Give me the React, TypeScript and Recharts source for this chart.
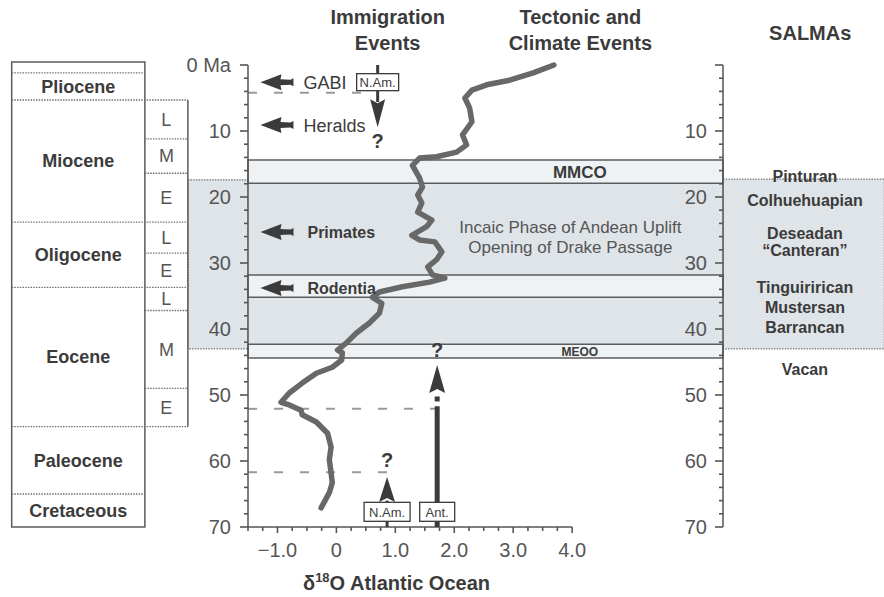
import { ComposedChart, XAxis, YAxis, Scatter, ReferenceArea, ReferenceLine, ReferenceDot } from 'recharts';

const FONT = '"Liberation Sans", Arial, Helvetica, sans-serif';
const INK = '#3b3b3b';
const TICK = '#555555';
const STIPPLE = '#dfe4e8';
const PALE = '#eef2f5';

// δ18O record: age (Ma) and value (‰)
const o18Ages = [
  0, 1.2, 2.3, 3.0, 3.8, 5.0, 6.5, 8.6, 10.6, 12.1, 13.2, 13.9, 14.1, 15.2, 17.1,
  18.5, 19.7, 20.9, 22.3, 23.5, 24.5, 25.8, 26.5, 26.8, 28.3, 29.5, 30.6, 31.8, 32.3,
  32.9, 33.6, 34.4, 35.2, 36.1, 37.6, 39.1, 40.6, 42.1, 43.2, 43.6, 44.7, 45.8, 46.7,
  48.2, 49.7, 51.1, 51.5, 52.3, 53.0, 54.1, 55.8, 57.9, 59.8, 61.8, 63.3, 64.8, 67.1,
];
const o18Values = [
  3.69, 3.34, 2.94, 2.55, 2.30, 2.18, 2.26, 2.30, 2.14, 2.21, 2.04, 1.70, 1.41, 1.29, 1.41,
  1.46, 1.38, 1.45, 1.38, 1.62, 1.53, 1.28, 1.41, 1.67, 1.79, 1.70, 1.55, 1.63, 1.84,
  1.58, 1.12, 0.73, 0.61, 0.77, 0.73, 0.56, 0.34, 0.17, 0.02, 0.10, 0.09, -0.07, -0.34,
  -0.58, -0.80, -0.94, -0.80, -0.60, -0.58, -0.34, -0.15, -0.09, -0.12, -0.09, -0.07, -0.12, -0.26,
];

const xTicks = [-1.5, -1.25, -1, -0.75, -0.5, -0.25, 0, 0.25, 0.5, 0.75, 1, 1.25, 1.5, 1.75, 2, 2.25, 2.5, 2.75, 3, 3.25, 3.5, 3.75, 4];
const ageTicks = [0, 2, 4, 6, 8, 10, 12, 14, 16, 18, 20, 22, 24, 26, 28, 30, 32, 34, 36, 38, 40, 42, 44, 46, 48, 50, 52, 54, 56, 58, 60, 62, 64, 66, 68, 70];

// time scale
const epochNames = ['Pliocene', 'Miocene', 'Oligocene', 'Eocene', 'Paleocene', 'Cretaceous'];
const epochTops = [1.2, 5.3, 23.8, 33.7, 54.8, 65.0];
const epochBases = [5.3, 23.8, 33.7, 54.8, 65.0, 70];
const subLabels = ['L', 'M', 'E', 'L', 'E', 'L', 'M', 'E'];
const subTops = [5.3, 11.2, 16.4, 23.8, 28.5, 33.7, 37.2, 49.0];
const subBases = [11.2, 16.4, 23.8, 28.5, 33.7, 37.2, 49.0, 54.8];

// South American Land Mammal Ages
const salmaNames = ['Pinturan', 'Colhuehuapian', 'Deseadan', '“Canteran”', 'Tinguirirican', 'Mustersan', 'Barrancan', 'Vacan'];
const salmaAges = [16.8, 20.5, 25.5, 28.0, 33.6, 36.7, 39.8, 46.1];

// immigration events
const immigrationNames = ['GABI', 'Heralds', 'Primates', 'Rodentia'];
const immigrationAges = [2.6, 9.1, 25.3, 33.8];
const immigrationBold = [false, false, true, true];

// climate event bands
const bandNames = ['MMCO', '', 'MEOO'];
const bandTops = [14.4, 31.8, 42.3];
const bandBases = [17.9, 35.2, 44.4];
const stippleTops = [17.9, 35.2];
const stippleBases = [31.8, 42.3];

const dottedAges = [4.2, 52.1, 61.7];
const dottedEnds = [0.62, 1.87, 0.94];

// column edges, in the δ18O units of the shared x scale
const EPOCH_L = -5.51;
const EPOCH_R = -3.25;
const STAGE_R = -2.52;
const X_MIN = -1.5;
const X_MAX = 6.56;
const PAGE_R = 9.3;

const curve = o18Ages.map((age, i) => ({ d: o18Values[i], age }));
const immigration = immigrationNames.map((name, i) => ({ d: -1.0, age: immigrationAges[i], name, bold: immigrationBold[i] }));

const LeftTick = (p: any) => {
  const { x, y, payload } = p;
  const v = payload.value;
  const major = v % 10 === 0;
  return (
    <g>
      <line x1={x} x2={x - (major ? 8 : 4)} y1={y} y2={y} stroke={TICK} strokeWidth={1.6} />
      {major && (
        <text x={x - 17} y={y} dy="0.36em" textAnchor="end" fontFamily={FONT} fontSize={20} fill={TICK}>
          {v === 0 ? '0 Ma' : v}
        </text>
      )}
    </g>
  );
};

const RightTick = (p: any) => {
  const { x, y, payload } = p;
  const v = payload.value;
  const major = v % 10 === 0;
  return (
    <g>
      <line x1={x} x2={x - (major ? 8 : 4)} y1={y} y2={y} stroke={TICK} strokeWidth={1.6} />
      {major && v > 0 && (
        <text x={x - 16} y={y} dy="0.36em" textAnchor="end" fontFamily={FONT} fontSize={20} fill={TICK}>
          {v}
        </text>
      )}
    </g>
  );
};

const BottomTick = (p: any) => {
  const { x, y, payload } = p;
  const v = payload.value;
  const major = Number.isInteger(v);
  const label = v === 0 ? '0' : (v < 0 ? '−' : '') + Math.abs(v).toFixed(1);
  return (
    <g>
      <line x1={x} x2={x} y1={y} y2={y + (major ? 6 : 4)} stroke={TICK} strokeWidth={1.6} />
      {major && (
        <text x={x} y={y + 30} textAnchor="middle" fontFamily={FONT} fontSize={20} fill={TICK}>
          {label}
        </text>
      )}
    </g>
  );
};

const note = (lines: string[], size: number, weight = 700, color = INK, gap = 26) => (p: any) => {
  const top = p.cy - ((lines.length - 1) * gap) / 2;
  return (
    <g>
      {lines.map((l, i) => (
        <text key={i} x={p.cx} y={top + i * gap} dy="0.36em" textAnchor="middle" fontFamily={FONT} fontSize={size} fontWeight={weight} fill={color}>
          {l}
        </text>
      ))}
    </g>
  );
};

const tagBox = (label: string, w: number, h: number) => (p: any) => (
  <g>
    <rect x={p.cx - w / 2} y={p.cy - h / 2} width={w} height={h} fill="#fff" stroke={INK} strokeWidth={1.3} />
    <text x={p.cx} y={p.cy} dy="0.36em" textAnchor="middle" fontFamily={FONT} fontSize={13} fill={INK}>{label}</text>
  </g>
);

const dart = (dir: number, len: number, half: number) => (p: any) => {
  const { cx, cy } = p;
  return <polygon points={`${cx - half},${cy} ${cx},${cy + dir * 4} ${cx + half},${cy} ${cx},${cy + dir * len}`} fill={INK} />;
};

const LeftArrow = (p: any) => {
  const { cx, cy, payload } = p;
  const pts = [
    [-17, 0], [4, -8], [3, -3], [13, -2.5], [16, -4], [16, 4], [13, 2.5], [3, 3], [4, 8],
  ].map(([dx, dy]) => `${cx + dx},${cy + dy}`).join(' ');
  return (
    <g>
      <polygon points={pts} fill={INK} />
      <text x={cx + (payload.bold ? 30 : 26)} y={cy} dy="0.36em" fontFamily={FONT} fontSize={payload.bold ? 16 : 18} fontWeight={payload.bold ? 700 : 400} fill={INK}>
        {payload.name}
      </text>
    </g>
  );
};

const XTitle = (p: any) => (
  <text x={p.cx} y={p.cy} dy="0.36em" textAnchor="middle" fontFamily={FONT} fontSize={20} fontWeight={700} fill={INK}>
    <tspan>δ</tspan>
    <tspan dy={-8} fontSize={13}>18</tspan>
    <tspan dy={8}>O Atlantic Ocean</tspan>
  </text>
);

const lineStyle = { stroke: '#5c5c5c', strokeWidth: 1.5 };
const dotStyle = { stroke: '#707070', strokeWidth: 1.3, strokeDasharray: '1.5 1.2' };

export default function App() {
  return (
    <div style={{ position: 'absolute', left: 0, top: 0, background: '#fff' }}>
      <ComposedChart width={884} height={597} margin={{ top: 65, right: 160, bottom: 30, left: 188 }}>
        <XAxis type="number" dataKey="d" domain={[X_MIN, X_MAX]} ticks={xTicks} interval={0} height={40}
          tickSize={0} tickMargin={0} axisLine={false} tickLine={false} tick={<BottomTick />} />
        <YAxis yAxisId="left" type="number" dataKey="age" domain={[0, 70]} reversed ticks={ageTicks} interval={0}
          width={60} tickSize={0} tickMargin={0} tickLine={false} axisLine={{ stroke: TICK, strokeWidth: 1.5 }} tick={<LeftTick />} />
        <YAxis yAxisId="right" orientation="right" type="number" dataKey="age" domain={[0, 70]} reversed ticks={ageTicks} interval={0}
          width={1} tickSize={0} tickMargin={0} tickLine={false} axisLine={{ stroke: TICK, strokeWidth: 1.5 }} tick={<RightTick />} />

        {/* grey stippled interval outside and inside the plot */}
        <ReferenceArea yAxisId="left" x1={STAGE_R} x2={X_MIN} y1={17.4} y2={43.0} ifOverflow="visible" fill={STIPPLE} fillOpacity={1} {...dotStyle} />
        <ReferenceArea yAxisId="left" x1={X_MAX} x2={PAGE_R} y1={17.3} y2={43.0} ifOverflow="visible" fill={STIPPLE} fillOpacity={1} {...dotStyle} />
        {stippleTops.map((t, i) => (
          <ReferenceArea key={`st${i}`} yAxisId="left" x1={X_MIN} x2={X_MAX} y1={t} y2={stippleBases[i]} ifOverflow="visible" fill={STIPPLE} fillOpacity={1} stroke="none" />
        ))}
        {bandTops.map((t, i) => (
          <ReferenceArea key={`b${i}`} yAxisId="left" x1={X_MIN} x2={X_MAX} y1={t} y2={bandBases[i]} ifOverflow="visible" fill={PALE} fillOpacity={1} {...lineStyle} />
        ))}

        {/* epoch column */}
        <ReferenceArea yAxisId="left" x1={EPOCH_L} x2={EPOCH_R} y1={-0.45} y2={70} ifOverflow="visible" fill="#fff" fillOpacity={1} {...lineStyle} />
        {epochNames.map((n, i) => (
          <ReferenceArea key={`e${i}`} yAxisId="left" x1={EPOCH_L} x2={EPOCH_R} y1={epochTops[i]} y2={epochBases[i]} ifOverflow="visible"
            fill="none" stroke="none"
            label={{ value: n, position: 'center', fill: INK, fontSize: 18, fontWeight: 700, fontFamily: FONT }} />
        ))}
        {subLabels.map((n, i) => (
          <ReferenceArea key={`s${i}`} yAxisId="left" x1={EPOCH_R} x2={STAGE_R} y1={subTops[i]} y2={subBases[i]} ifOverflow="visible"
            fill="none" stroke="none"
            label={{ value: n, position: 'center', fill: TICK, fontSize: 18, fontFamily: FONT }} />
        ))}
        <ReferenceLine yAxisId="left" segment={[{ x: STAGE_R, y: 5.3 }, { x: STAGE_R, y: 54.8 }]} ifOverflow="visible" {...lineStyle} />
        {[1.2, 65.0].map((a) => (
          <ReferenceLine key={`ed${a}`} yAxisId="left" segment={[{ x: EPOCH_L, y: a }, { x: EPOCH_R, y: a }]} ifOverflow="visible" {...dotStyle} />
        ))}
        {[5.3, 23.8, 33.7, 54.8].map((a) => (
          <ReferenceLine key={`eb${a}`} yAxisId="left" segment={[{ x: EPOCH_L, y: a }, { x: STAGE_R, y: a }]} ifOverflow="visible" {...dotStyle} />
        ))}
        {[11.2, 16.4, 28.5, 37.2, 49.0].map((a) => (
          <ReferenceLine key={`sb${a}`} yAxisId="left" segment={[{ x: EPOCH_R, y: a }, { x: STAGE_R, y: a }]} ifOverflow="visible" {...dotStyle} />
        ))}

        {/* dotted guide lines */}
        {dottedAges.map((a, i) => (
          <ReferenceLine key={`g${i}`} yAxisId="left" segment={[{ x: X_MIN, y: a }, { x: dottedEnds[i], y: a }]}
            stroke="#9a9a9a" strokeWidth={2} strokeDasharray="9 17" />
        ))}

        {/* bottom axis line */}
        <ReferenceLine yAxisId="left" segment={[{ x: X_MIN, y: 70 }, { x: 4, y: 70 }]} ifOverflow="visible" stroke={TICK} strokeWidth={1.5} />

        {/* dispersal arrows */}
        <ReferenceLine yAxisId="left" segment={[{ x: 0.7, y: 0 }, { x: 0.7, y: 5.6 }]} stroke={INK} strokeWidth={3} />
        <ReferenceLine yAxisId="left" segment={[{ x: 0.86, y: 66 }, { x: 0.86, y: 70 }]} stroke={INK} strokeWidth={3} />
        <ReferenceLine yAxisId="left" segment={[{ x: 1.71, y: 51.7 }, { x: 1.71, y: 70 }]} stroke={INK} strokeWidth={5} />

        <Scatter yAxisId="left" data={curve} isAnimationActive={false} shape={() => <g />}
          line={{ stroke: '#686868', strokeWidth: 5.5, strokeLinejoin: 'round', strokeLinecap: 'round' }} lineType="joint" />
        {/* same record bound to the right-hand age axis so it gets its scale */}
        <Scatter yAxisId="right" data={curve} isAnimationActive={false} shape={() => <g />} />
        <Scatter yAxisId="left" data={immigration} isAnimationActive={false} shape={(p: any) => <LeftArrow {...p} />} />

        <ReferenceDot yAxisId="left" x={0.7} y={5.2} ifOverflow="visible" shape={dart(1, 28, 7.5)} />
        <ReferenceDot yAxisId="left" x={0.7} y={2.6} ifOverflow="visible" shape={tagBox('N.Am.', 42, 17)} />
        <ReferenceDot yAxisId="left" x={0.7} y={11.5} ifOverflow="visible" shape={note(['?'], 20)} />
        <ReferenceDot yAxisId="left" x={0.86} y={66.2} ifOverflow="visible" shape={dart(-1, 25, 8)} />
        <ReferenceDot yAxisId="left" x={0.86} y={67.7} ifOverflow="visible" shape={tagBox('N.Am.', 46, 19)} />
        <ReferenceDot yAxisId="left" x={0.86} y={59.8} ifOverflow="visible" shape={note(['?'], 20)} />
        <ReferenceDot yAxisId="left" x={1.71} y={50.6} ifOverflow="visible" shape={(p: any) => <rect x={p.cx - 2.5} y={p.cy - 2.5} width={5} height={5} fill={INK} />} />
        <ReferenceDot yAxisId="left" x={1.71} y={49.7} ifOverflow="visible" shape={dart(-1, 28, 8)} />
        <ReferenceDot yAxisId="left" x={1.71} y={67.7} ifOverflow="visible" shape={tagBox('Ant.', 35, 19)} />
        <ReferenceDot yAxisId="left" x={1.71} y={43.2} ifOverflow="visible" shape={note(['?'], 20)} />

        {/* event labels */}
        <ReferenceDot yAxisId="left" x={4.13} y={16.15} ifOverflow="visible" shape={note([bandNames[0]], 17)} />
        <ReferenceDot yAxisId="left" x={4.13} y={43.5} ifOverflow="visible" shape={note([bandNames[2]], 12)} />
        <ReferenceDot yAxisId="left" x={3.97} y={26.05} ifOverflow="visible"
          shape={note(['Incaic Phase of Andean Uplift', 'Opening of Drake Passage'], 17, 400, '#555', 20)} />
        {salmaNames.map((n, i) => (
          <ReferenceDot key={`sa${i}`} yAxisId="left" x={7.95} y={salmaAges[i]} ifOverflow="visible" shape={note([n], 16)} />
        ))}

        {/* headings */}
        <ReferenceDot yAxisId="left" x={0.87} y={-5.3} ifOverflow="visible" shape={note(['Immigration', 'Events'], 20)} />
        <ReferenceDot yAxisId="left" x={4.14} y={-5.3} ifOverflow="visible" shape={note(['Tectonic and', 'Climate Events'], 20)} />
        <ReferenceDot yAxisId="left" x={8.04} y={-4.85} ifOverflow="visible" shape={note(['SALMAs'], 20)} />
        <ReferenceDot yAxisId="left" x={1.02} y={78.5} ifOverflow="visible" shape={XTitle} />
      </ComposedChart>
    </div>
  );
}
